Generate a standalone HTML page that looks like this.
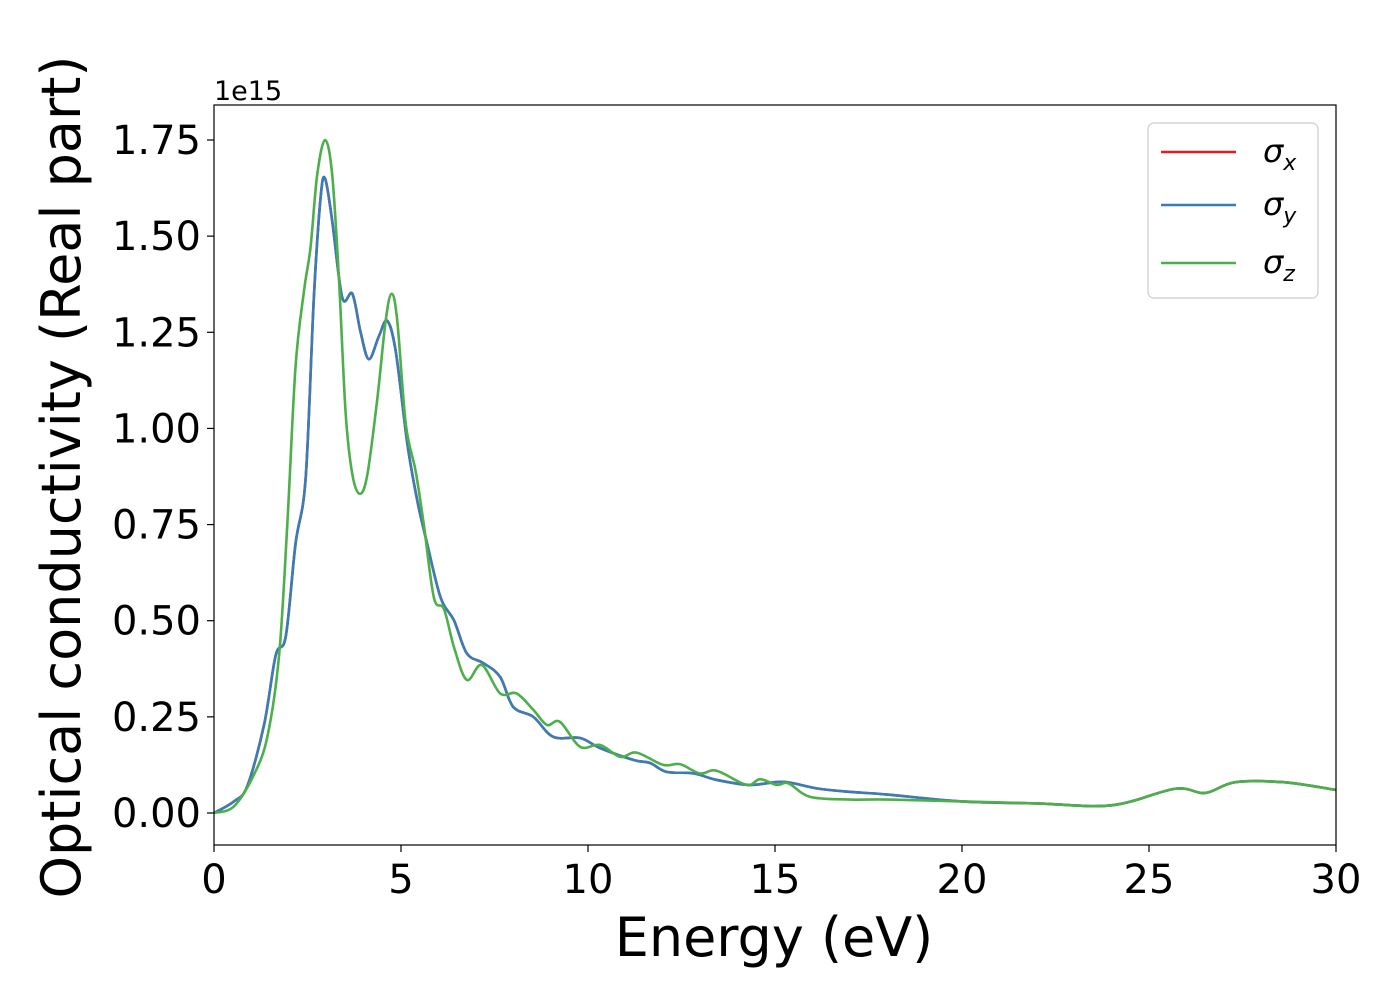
<!DOCTYPE html>
<html><head><meta charset="utf-8">
<style>
body{margin:0;background:#fff;}
svg{display:block;font-family:"DejaVu Sans","Liberation Sans",sans-serif;}
</style></head>
<body>
<svg id="chart" width="1400" height="1000" viewBox="0 0 1400 1000">
<rect x="0" y="0" width="1400" height="1000" fill="#fff"/>
<g id="grid-ticks"></g>
<g id="series"></g>
<rect x="214" y="105" width="1122" height="740" fill="none" stroke="#000" stroke-width="1.2"/>
<text x="214" y="100" font-size="27">1e15</text>
<text x="774" y="956" font-size="54" text-anchor="middle">Energy (eV)</text>
<text transform="translate(80,477) rotate(-90)" font-size="54" text-anchor="middle">Optical conductivity (Real part)</text>
<g>
<rect x="1148" y="123" width="170" height="175" rx="6" fill="#fff" fill-opacity="0.8" stroke="#ccc" stroke-width="1.2"/>
<line x1="1161" y1="152" x2="1236" y2="152" stroke="#e41a1c" stroke-width="2.6"/>
<text x="1263" y="162" font-size="32" font-style="italic">σ<tspan font-size="22" dy="8">x</tspan></text>
<line x1="1161" y1="205" x2="1236" y2="205" stroke="#377eb8" stroke-width="2.6"/>
<text x="1263" y="215" font-size="32" font-style="italic">σ<tspan font-size="22" dy="8">y</tspan></text>
<line x1="1161" y1="263" x2="1236" y2="263" stroke="#4daf4a" stroke-width="2.6"/>
<text x="1263" y="273" font-size="32" font-style="italic">σ<tspan font-size="22" dy="8">z</tspan></text>
</g>
</svg>
<script>
const energyXY = [0,0.53,0.89,1.34,1.65,1.92,2.18,2.45,2.67,2.85,2.97,3.16,3.43,3.70,3.92,4.14,4.41,4.63,4.86,5.17,5.44,5.70,6.06,6.42,6.76,7.20,7.65,8.00,8.54,9.07,9.79,10.32,11.21,11.66,12.10,12.82,13.44,14.33,15.22,16.11,17.0,18.0,20.0,22.0,24.0,25.7,26.5,27.3,28.6,30.0];
const sigmaX = [0,0.03,0.07,0.23,0.41,0.46,0.70,0.87,1.34,1.60,1.65,1.54,1.34,1.35,1.25,1.18,1.24,1.28,1.20,0.96,0.81,0.70,0.56,0.50,0.415,0.39,0.354,0.276,0.25,0.198,0.195,0.169,0.138,0.130,0.107,0.103,0.086,0.073,0.081,0.064,0.055,0.048,0.03,0.025,0.02,0.063,0.052,0.08,0.08,0.06];
const sigmaY = [0,0.03,0.07,0.23,0.41,0.46,0.70,0.87,1.34,1.60,1.65,1.54,1.34,1.35,1.25,1.18,1.24,1.28,1.20,0.96,0.81,0.70,0.56,0.50,0.415,0.39,0.354,0.276,0.25,0.198,0.195,0.169,0.138,0.130,0.107,0.103,0.086,0.073,0.081,0.064,0.055,0.048,0.03,0.025,0.02,0.063,0.052,0.08,0.08,0.06];
const energyZ = [0,0.53,1.07,1.43,1.74,1.96,2.18,2.41,2.58,2.76,2.97,3.16,3.34,3.52,3.70,3.90,4.10,4.37,4.59,4.75,4.90,5.13,5.39,5.61,5.88,6.15,6.42,6.76,7.16,7.65,8.09,8.54,8.90,9.25,9.79,10.32,10.86,11.30,12.01,12.46,12.99,13.44,14.24,14.60,15.04,15.36,15.94,17.0,18.0,20.0,22.0,24.0,25.7,26.5,27.3,28.6,30.0];
const sigmaZ = [0,0.017,0.10,0.20,0.41,0.75,1.16,1.36,1.47,1.66,1.75,1.66,1.39,1.04,0.88,0.83,0.88,1.08,1.28,1.35,1.28,1.01,0.89,0.75,0.56,0.53,0.43,0.346,0.385,0.311,0.311,0.268,0.229,0.237,0.172,0.177,0.146,0.157,0.125,0.127,0.103,0.110,0.073,0.088,0.073,0.077,0.042,0.035,0.035,0.03,0.025,0.02,0.063,0.052,0.08,0.08,0.06];
const xTicks = [0,5,10,15,20,25,30];
const xTickLabels = ["0","5","10","15","20","25","30"];
const yTicks = [0,0.25,0.5,0.75,1.0,1.25,1.5,1.75];
const yTickLabels = ["0.00","0.25","0.50","0.75","1.00","1.25","1.50","1.75"];

const X0=214, X1=1336, xMin=0, xMax=30;
const Y0=813, yPerUnit=384.57;
function xs(v){return X0+(v-xMin)/(xMax-xMin)*(X1-X0);}
function ys(v){return Y0-v*yPerUnit;}
const NS="http://www.w3.org/2000/svg";
const tg=document.getElementById('grid-ticks');
xTicks.forEach((t,i)=>{
  const l=document.createElementNS(NS,'line');
  l.setAttribute('x1',xs(t));l.setAttribute('x2',xs(t));l.setAttribute('y1',845);l.setAttribute('y2',852);
  l.setAttribute('stroke','#000');l.setAttribute('stroke-width','1.2');
  
  
  tg.appendChild(l);
  const tx=document.createElementNS(NS,'text');
  tx.setAttribute('x',xs(t));tx.setAttribute('y',893);tx.setAttribute('font-size','40');tx.setAttribute('text-anchor','middle');
  tx.textContent=xTickLabels[i];
  
  
  tg.appendChild(tx);
});
yTicks.forEach((t,i)=>{
  const l=document.createElementNS(NS,'line');
  l.setAttribute('x1',207);l.setAttribute('x2',214);l.setAttribute('y1',ys(t));l.setAttribute('y2',ys(t));
  l.setAttribute('stroke','#000');l.setAttribute('stroke-width','1.2');
  
  
  tg.appendChild(l);
  const tx=document.createElementNS(NS,'text');
  tx.setAttribute('x',201);tx.setAttribute('y',ys(t)+14);tx.setAttribute('font-size','40');tx.setAttribute('text-anchor','end');
  tx.textContent=yTickLabels[i];
  
  
  tg.appendChild(tx);
});
function pathFor(xv,yv){
  const p=xv.map((x,i)=>[xs(x),ys(yv[i])]);
  let d='M'+p[0][0].toFixed(2)+','+p[0][1].toFixed(2);
  for(let i=0;i<p.length-1;i++){
    const a=p[Math.max(0,i-1)],b=p[i],c=p[i+1],e=p[Math.min(p.length-1,i+2)];
    const c1=[b[0]+(c[0]-a[0])/6,b[1]+(c[1]-a[1])/6];
    const c2=[c[0]-(e[0]-b[0])/6,c[1]-(e[1]-b[1])/6];
    d+=' C'+c1[0].toFixed(2)+','+c1[1].toFixed(2)+' '+c2[0].toFixed(2)+','+c2[1].toFixed(2)+' '+c[0].toFixed(2)+','+c[1].toFixed(2);
  }
  return d;
}
const sg=document.getElementById('series');
[[energyXY,sigmaX,'#e41a1c','series-sigma-x'],[energyXY,sigmaY,'#377eb8','series-sigma-y'],[energyZ,sigmaZ,'#4daf4a','series-sigma-z']].forEach(s=>{
  const pa=document.createElementNS(NS,'path');
  pa.setAttribute('d',pathFor(s[0],s[1]));
  pa.setAttribute('fill','none');pa.setAttribute('stroke',s[2]);pa.setAttribute('stroke-width','2.6');
  
  
  sg.appendChild(pa);
});
</script>
</body></html>
